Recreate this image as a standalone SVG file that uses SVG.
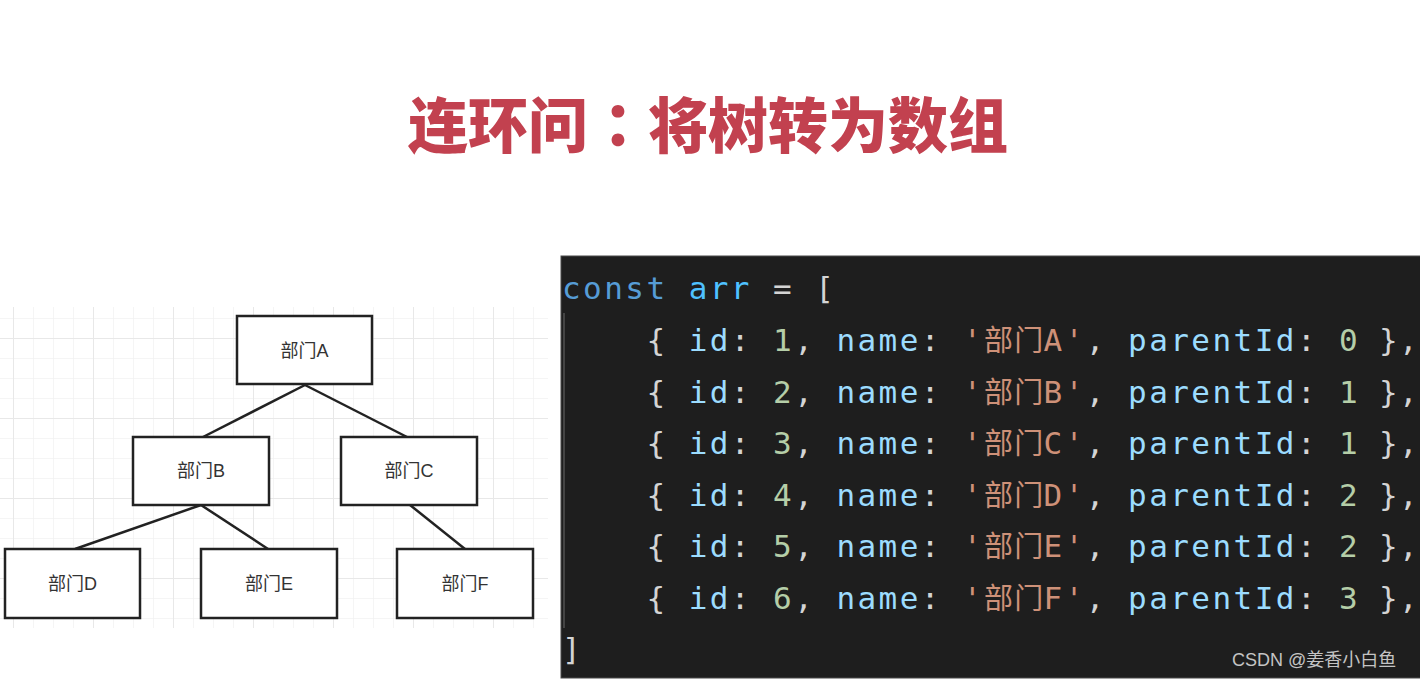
<svg xmlns="http://www.w3.org/2000/svg" width="1420" height="680" viewBox="0 0 1420 680">
<style>
.title{font-family:"Noto Sans CJK SC","Noto Sans",sans-serif;font-weight:900;font-size:60px;fill:#c2414f}
.colon{font-family:"Noto Sans CJK TC",sans-serif}
.box{fill:#fff;stroke:#222;stroke-width:2.5}
.lbl{font-family:"Liberation Sans","Noto Sans CJK SC",sans-serif;font-size:18px;fill:#333;text-anchor:middle}
.edge{stroke:#222;stroke-width:2.5;fill:none}
.code{font-family:"DejaVu Sans Mono","Noto Sans CJK SC",monospace;font-size:31px;letter-spacing:2.44px;fill:#d4d4d4}
.cjk{font-family:"Noto Sans CJK SC",sans-serif;font-size:29px;letter-spacing:0}
.end{letter-spacing:0}
.kw{fill:#569cd6}.var{fill:#4fc1ff}.key{fill:#9cdcfe}.num{fill:#b5cea8}.str{fill:#ce9178}
.wm{font-family:"Liberation Sans","Noto Sans CJK SC",sans-serif;font-size:18px;fill:#c4c4c4}
</style>
<defs>
<pattern id="minor" x="13" y="318" width="20" height="20" patternUnits="userSpaceOnUse">
<path d="M0 0V20M0 0H20" stroke="#f2f2f2" stroke-width="1.5" fill="none"/>
</pattern>
<pattern id="major" x="13" y="338" width="80" height="80" patternUnits="userSpaceOnUse">
<path d="M0 0V80M0 0H80" stroke="#e8e8e8" stroke-width="2" fill="none"/>
</pattern>
</defs>
<rect width="1420" height="680" fill="#fff"/>
<text class="title" x="708" y="148" text-anchor="middle">连环问<tspan class="colon">：</tspan>将树转为数组</text>

<g id="grid">
<rect x="0" y="307" width="548" height="321" fill="url(#minor)"/>
<rect x="0" y="307" width="548" height="321" fill="url(#major)"/>
</g>

<g id="connectors">
<line class="edge" x1="305" y1="385" x2="203" y2="437"/>
<line class="edge" x1="305" y1="385" x2="407" y2="437"/>
<line class="edge" x1="201" y1="505" x2="75" y2="549"/>
<line class="edge" x1="201" y1="505" x2="268" y2="549"/>
<line class="edge" x1="410" y1="505" x2="465" y2="549"/>
</g>

<g id="nodeA"><rect class="box" x="237" y="316" width="135" height="68"/><text class="lbl" x="304.5" y="357">部门A</text></g>
<g id="nodeB"><rect class="box" x="133" y="437" width="136" height="68"/><text class="lbl" x="201" y="477">部门B</text></g>
<g id="nodeC"><rect class="box" x="341" y="437" width="136" height="68"/><text class="lbl" x="409" y="477">部门C</text></g>
<g id="nodeD"><rect class="box" x="5" y="549" width="135" height="69"/><text class="lbl" x="72.5" y="590">部门D</text></g>
<g id="nodeE"><rect class="box" x="201" y="549" width="136" height="69"/><text class="lbl" x="269" y="590">部门E</text></g>
<g id="nodeF"><rect class="box" x="397" y="549" width="136" height="69"/><text class="lbl" x="465" y="590">部门F</text></g>

<g id="codePanel">
<rect x="561" y="256" width="860" height="422" fill="#1e1e1e" stroke="#4a4a4a" stroke-width="1"/>
<line x1="564" y1="313" x2="564" y2="628" stroke="#444" stroke-width="2"/>
<text class="code" xml:space="preserve" x="562" y="299"><tspan class="kw">const</tspan> <tspan class="var">arr</tspan> = [</text>
<text class="code" xml:space="preserve" y="351"><tspan x="562">    { </tspan><tspan class="key">id</tspan>: <tspan class="num">1</tspan>, <tspan class="key">name</tspan>: <tspan class="str">'</tspan><tspan class="str cjk" x="984 1014.3">部门</tspan><tspan class="str" x="1043.6">A'</tspan>, <tspan class="key">parentId</tspan>: <tspan class="num">0</tspan> <tspan class="end" x="1379 1399">},</tspan></text>
<text class="code" xml:space="preserve" y="402.5"><tspan x="562">    { </tspan><tspan class="key">id</tspan>: <tspan class="num">2</tspan>, <tspan class="key">name</tspan>: <tspan class="str">'</tspan><tspan class="str cjk" x="984 1014.3">部门</tspan><tspan class="str" x="1043.6">B'</tspan>, <tspan class="key">parentId</tspan>: <tspan class="num">1</tspan> <tspan class="end" x="1379 1399">},</tspan></text>
<text class="code" xml:space="preserve" y="454"><tspan x="562">    { </tspan><tspan class="key">id</tspan>: <tspan class="num">3</tspan>, <tspan class="key">name</tspan>: <tspan class="str">'</tspan><tspan class="str cjk" x="984 1014.3">部门</tspan><tspan class="str" x="1043.6">C'</tspan>, <tspan class="key">parentId</tspan>: <tspan class="num">1</tspan> <tspan class="end" x="1379 1399">},</tspan></text>
<text class="code" xml:space="preserve" y="505.5"><tspan x="562">    { </tspan><tspan class="key">id</tspan>: <tspan class="num">4</tspan>, <tspan class="key">name</tspan>: <tspan class="str">'</tspan><tspan class="str cjk" x="984 1014.3">部门</tspan><tspan class="str" x="1043.6">D'</tspan>, <tspan class="key">parentId</tspan>: <tspan class="num">2</tspan> <tspan class="end" x="1379 1399">},</tspan></text>
<text class="code" xml:space="preserve" y="557"><tspan x="562">    { </tspan><tspan class="key">id</tspan>: <tspan class="num">5</tspan>, <tspan class="key">name</tspan>: <tspan class="str">'</tspan><tspan class="str cjk" x="984 1014.3">部门</tspan><tspan class="str" x="1043.6">E'</tspan>, <tspan class="key">parentId</tspan>: <tspan class="num">2</tspan> <tspan class="end" x="1379 1399">},</tspan></text>
<text class="code" xml:space="preserve" y="608.5"><tspan x="562">    { </tspan><tspan class="key">id</tspan>: <tspan class="num">6</tspan>, <tspan class="key">name</tspan>: <tspan class="str">'</tspan><tspan class="str cjk" x="984 1014.3">部门</tspan><tspan class="str" x="1043.6">F'</tspan>, <tspan class="key">parentId</tspan>: <tspan class="num">3</tspan> <tspan class="end" x="1379 1399">},</tspan></text>
<text class="code" x="562" y="660">]</text>
<text class="wm" x="1232" y="666">CSDN @姜香小白鱼</text>
</g>
</svg>
